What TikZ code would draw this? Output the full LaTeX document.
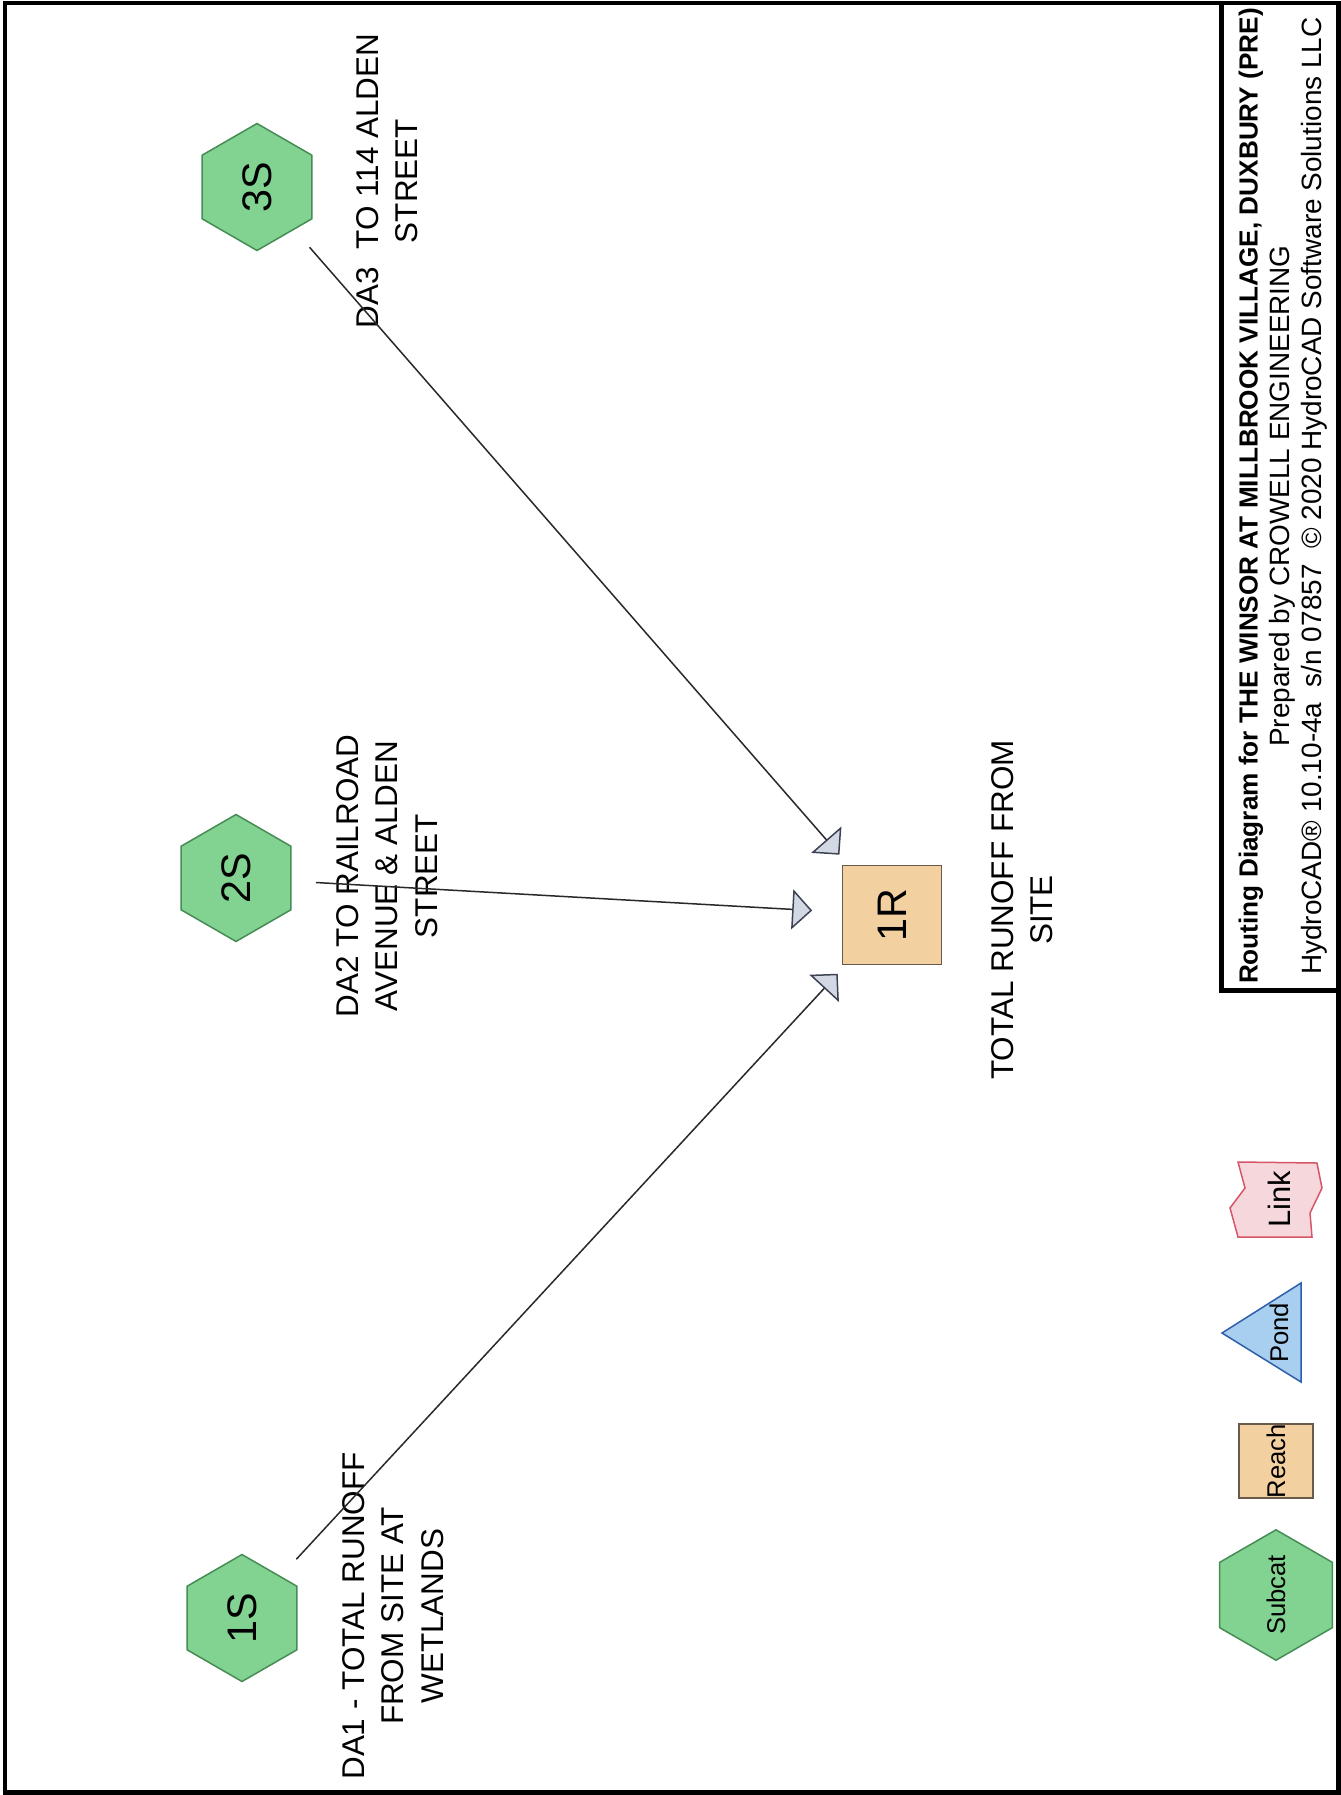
\documentclass[tikz,border=0pt]{standalone}
\usepackage{fontspec}
\setmainfont{Liberation Sans}
\usetikzlibrary{arrows.meta,shapes.geometric}
\definecolor{subfill}{RGB}{130,210,145}
\definecolor{subline}{RGB}{70,140,85}
\definecolor{reachfill}{RGB}{242,208,160}
\definecolor{reachline}{RGB}{105,90,75}
\definecolor{pondfill}{RGB}{168,206,240}
\definecolor{pondline}{RGB}{45,95,170}
\definecolor{linkfill}{RGB}{246,216,220}
\definecolor{linkline}{RGB}{215,85,105}
\definecolor{tipfill}{RGB}{210,216,228}
\definecolor{tipline}{RGB}{60,66,82}
\definecolor{flowline}{RGB}{40,40,45}
\begin{document}
\begin{tikzpicture}[x=0.02cm, y=-0.02cm,
    subcat/.style={regular polygon, regular polygon sides=6, rotate=90, draw=subline, fill=subfill, line width=0.03cm, inner sep=0pt, minimum size=2.54cm, font=\fontsize{23.5}{23.5}\selectfont},
    reach/.style={rectangle, rotate=90, draw=reachline, fill=reachfill, line width=0.03cm, minimum size=1.98cm, font=\fontsize{23.5}{23.5}\selectfont},
    desc/.style={rotate=90, align=center, font=\fontsize{17.9}{22.5}\selectfont},
    legtext/.style={rotate=90, inner sep=0pt, font=\fontsize{14.6}{14.6}\selectfont},
    flow/.style={draw=flowline, line width=0.03cm, shorten <=1.6cm, shorten >=1.6cm, -{Triangle[length=0.4cm, width=0.8cm, color=tipline, fill=tipfill]}}]
  \useasboundingbox (0,0) rectangle (1341,1795);
  \draw[line width=0.1cm] (5,3) rectangle (1338.5,1792.5);
  \draw[line width=0.1cm] (1221,3) rectangle (1338.5,990);
  \node[subcat] (s1) at (242,1618) {1S};
  \node[subcat] (s2) at (236,878) {2S};
  \node[subcat] (s3) at (257,187) {3S};
  \node[reach] (r1) at (892,915) {1R};
  \node[desc] (d1) at (393,1616) {DA1 - TOTAL RUNOFF\\FROM SITE AT\\WETLANDS};
  \node[desc] (d2) at (387,876) {DA2 TO RAILROAD\\AVENUE \& ALDEN\\STREET};
  \node[desc] (d3) at (387,181) {DA3\ \ TO 114 ALDEN\\STREET};
  \node[desc] (dr) at (1022,910) {TOTAL RUNOFF FROM\\SITE};
  \draw[flow] (s1.center) -- (r1.center);
  \draw[flow] (s2.center) -- (r1.center);
  \draw[flow] (s3.center) -- (r1.center);
  \node[subcat, minimum size=2.0cm, font=\fontsize{14.6}{14.6}\selectfont] (lsub) at (1276,1595) {Subcat};
  \node[reach, inner sep=0pt, minimum size=1.48cm, font=\fontsize{14.6}{14.6}\selectfont] (lreach) at (1276,1461) {Reach};
  \draw[draw=pondline, fill=pondfill, line width=0.03cm] (1222,1333) -- (1301,1283) -- (1301,1382) -- cycle;
  \node[legtext] (lpond) at (1279,1333) {Pond};
  \draw[draw=linkline, fill=linkfill, line width=0.03cm] (1238,1162) -- (1317,1163) -- (1322,1188) -- (1310,1213) -- (1312,1237) -- (1238,1237) -- (1230,1208) -- (1245,1188) -- cycle;
  \node[legtext, font=\fontsize{17.6}{17.6}\selectfont] (llink) at (1279,1199) {Link};
  \node[rotate=90, align=center, font=\fontsize{15.9}{18.2}\selectfont] (title) at (1283,496)
    {{\fontsize{14.9}{18.2}\selectfont\bfseries Routing Diagram for THE WINSOR AT MILLBROOK VILLAGE, DUXBURY (PRE)}\\
     Prepared by CROWELL ENGINEERING\\
     HydroCAD® 10.10-4a\ \ s/n 07857\ \ © 2020 HydroCAD Software Solutions LLC};
\end{tikzpicture}
\end{document}
